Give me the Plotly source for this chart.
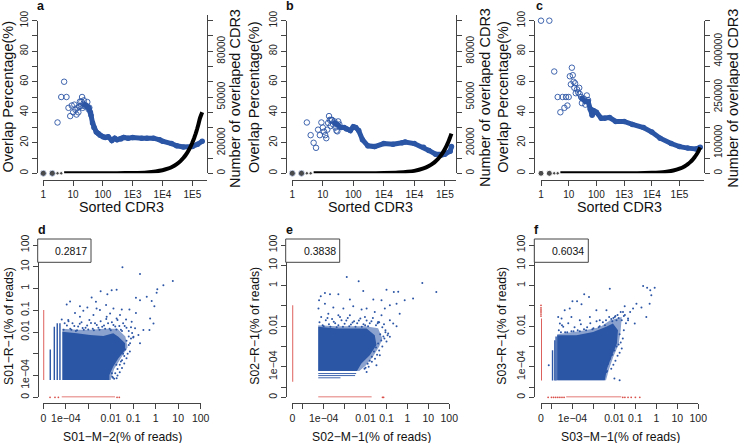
import plotly.graph_objects as go

W, H = 740, 443
BLUE = "#2B55A5"
RED = "#D94F4A"
AXC = "#444444"
FONT = "Liberation Sans, Arial, sans-serif"

# ---------- top row: overlap percentage by sorted CDR3 rank ----------
a_rank = [1,2,3,4,5,6,7,8,9,10,11,12,13,14,15,16,17,18,19,20,21,22,23,25,27,30,33,35]
a_pct = [0,0,33.3,50,60,50,42.9,37.5,44.4,40,45,41.7,38.5,42.9,40,43.8,47,44,47,50,42.9,45.5,47.8,44,44.4,46.7,42,43]
a_band_rank = [25,30,33,35,38,40,45,50,60,70,80,100,120,150,200,250,300,400,500,700,1000,2000,3000,5000,8000,10000,20000,30000,50000,100000,150000,215000]
a_band_pct = [45,44,43,42,40,38,33,30,27,26,25,24,23.5,24,21.5,23,22,22.5,23.5,23,23.5,23,23,23,22,21,19.5,18,17.3,17.5,19,21]
a_count_rank = [1,2,3,4,5,6,8,10,20,50,100,300,1000,3000,10000,15000,20000,30000,40000,50000,60000,70000,85000,100000,115000,130000,145000,160000,180000,215000]
a_count = [0,0,0,0,1,1,2,2,4,10,20,60,200,600,2000,3000,4000,6000,8000,10000,12000,14000,17000,20000,23000,26000,29000,32000,36000,40000]

b_rank = [1,2,3,4,5,6,7,8,9,10,11,12,13,14,15,16,17,18,19,20,22,24,26,28,30,32,35]
b_pct = [0,0,33.3,25,20,16.7,28.6,25,33.3,30,27.3,25,23,28.6,33,37.5,35,31,35,35,32,34,30,28,27.5,34,32]
b_band_rank = [25,30,40,50,60,80,100,120,150,200,300,500,1000,2000,4000,5000,10000,20000,30000,50000,80000,100000,150000,165000]
b_band_pct = [33,32,30,30,29,28,30.5,30,28,22,18,17.5,19.5,19,20,20.5,19.5,17,15,12.5,12,12.5,14.5,17.5]
b_count_rank = [1,2,3,4,5,6,8,10,20,50,100,300,1000,3000,10000,20000,30000,40000,50000,60000,70000,85000,100000,115000,130000,145000,165000]
b_count = [0,0,0,0,1,1,1,2,3,8,16,47,158,470,1580,3160,4740,6300,7900,9500,11000,13400,15800,18200,20500,22900,26000]

c_rank = [1,2,3,4,5,6,7,8,9,10,11,12,13,14,15,16,17,18,20,22,24,25,28,30,35,40,45,50]
c_pct = [100,100,66.7,50,40,50,42.9,50,44.4,50,63.6,58.3,69.2,64.3,60,56,59,52.5,55,53,56,52,50,46,49,45,51,48]
c_band_rank = [30,40,50,60,70,80,100,150,200,300,500,1000,2000,5000,10000,20000,50000,100000,200000,400000,560000]
c_band_pct = [49,47,47,42,38,41,40,36,36,36.5,34,34,32,30,27,23,19.5,17.5,16.5,16,17]
c_count_rank = [1,2,3,4,5,6,8,10,20,50,100,300,1000,3000,10000,30000,60000,100000,150000,200000,250000,300000,350000,400000,480000,560000]
c_count = [0,0,0,0,1,1,1,2,3,8,15,45,150,450,1500,4500,9000,15000,22500,30000,37500,45000,52500,60000,72000,85000]

x_top_vals = [1,10,100,1000,10000,100000]
x_top_a = ["1","10","100","1E3","1E4","1E5"]
x_top_b = ["1","10","100","1E4","1E4","1E5"]
x_top_c = ["1","10","100","1E3","1E4","1E5"]
left_vals = [0,10,20,30,40,50,60,70,80,90,100]
left_text = ["0","","20","","40","","60","","80","","100"]
right_ab_vals = [0,10000,20000,30000,40000,50000,60000,70000,80000,90000,100000]
right_ab_text = ["0","","20000","","","50000","","","80000","",""]
right_c_vals = [0,50000,100000,150000,200000,250000,300000,350000,400000,450000,500000]
right_c_text = ["0","","100000","","","250000","","","400000","",""]

# ---------- bottom row: log10 of % of reads ----------
d_dense_x = [-4.15,-4.15,-3.51,-2.92,-2.33,-1.89,-1.66,-1.36,-1.36,-1.66,-1.89,-2.06,-2.06]
d_dense_y = [-4.21,-1.99,-2.06,-2.14,-2.18,-2.06,-2.22,-2.52,-2.83,-3.21,-3.59,-3.98,-4.21]
d_fuzzy_x = [-4.15,-3.5,-2.9,-2.3,-1.7,-1.35,-1.25,-1.6,-1.85,-2.0,-2.06,-4.15]
d_fuzzy_y = [-1.85,-1.9,-1.9,-1.85,-1.85,-2.2,-2.7,-3.3,-3.7,-4.21,-4.21,-4.21]
d_col_x = [-4.69,-4.51,-4.38,-4.26]
d_col_top = [-2.8,-1.76,-1.6,-1.6]
d_col_bottom = [-4.21,-4.21,-4.21,-4.21]
d_pts_x = [-1.48,-0.70,0.76,0.34,0.07,-2.45,-1.96,-1.74,-2.15,0.04,-3.81,-3.96,-2.85,-2.66,-3.37,-3.04,-3.59,-3.22,-2.48,-2.21,-1.88,-1.51,-1.17,-0.88,-0.40,-0.70,-0.18,-0.06,-0.88,-0.25,-0.10,-0.28,-0.55,-0.92,-1.07,-1.74,-2.18,-2.77,-3.37,-3.89,-4.18,-2.63,-2.03,-1.59,-1.32,-0.77,-0.70,-1.93,-1.74,-0.99,-1.14,
            -4.1,-3.95,-3.8,-3.7,-3.55,-3.45,-3.3,-3.2,-3.05,-2.95,-2.8,-2.7,-2.55,-2.45,-2.3,-2.2,-2.05,-1.95,-1.8,-1.7,-1.55,-1.45,-1.3,-1.2,
            -4.05,-3.88,-3.62,-3.38,-3.12,-2.88,-2.62,-2.38,-2.12,-1.88,-1.62,-1.38,-1.1,-1.05,-1.0,-3.75,-3.5,-3.25,-3.0,-2.75,-2.5,-2.25,-2.0,-1.75,-1.5,
            -1.3,-1.2,-1.35,-1.15,-1.25,-1.4,-1.3,-1.5,-1.4,-1.6,-1.5,-1.7,-1.6,-1.8,-1.7,-1.9,-1.85,-1.1,-1.2,-1.45,-1.55,-1.75,-1.95]
d_pts_y = [0.98,0.67,0.34,0.15,-0.03,-0.12,-0.08,-0.06,-0.26,-0.20,-0.60,-0.73,-0.41,-0.61,-0.81,-0.87,-1.12,-1.02,-0.99,-0.76,-0.92,-0.96,-0.96,-0.43,-0.38,-0.54,-0.57,-0.81,-1.12,-1.38,-1.61,-1.91,-1.91,-1.83,-1.53,-1.38,-1.30,-1.22,-1.30,-1.45,-1.42,-0.92,-1.15,-1.22,-1.42,-2.14,-2.52,-4.05,-4.13,-2.22,-2.52,
            -1.9,-1.7,-1.85,-1.6,-1.95,-1.75,-1.55,-1.9,-1.7,-1.45,-1.85,-1.6,-1.8,-1.5,-1.7,-1.4,-1.85,-1.55,-1.75,-1.45,-1.9,-1.6,-1.8,-1.95,
            -1.6,-1.5,-1.72,-1.62,-1.8,-1.58,-1.68,-1.76,-1.6,-1.68,-1.72,-1.72,-1.78,-2.05,-2.25,-1.9,-1.92,-1.82,-1.88,-1.92,-1.9,-1.85,-1.92,-1.88,-1.95,
            -2.4,-2.6,-2.8,-2.9,-3.0,-3.1,-3.2,-3.3,-3.45,-3.5,-3.65,-3.7,-3.85,-3.9,-4.0,-4.1,-4.15,-2.3,-2.2,-3.0,-3.35,-3.5,-3.9]
d_red_v = [-0.99,-1.3,-1.6,-1.9,-2.2,-2.5,-3.0,-3.5,-4.0,-4.21]
d_red_h_dots = [-4.7,-4.48,-4.33,-1.72,-1.62]
d_red_h_line = [-4.18,-1.81]

e_dense_x = [-4.26,-4.26,-3.38,-2.59,-1.95,-1.56,-1.48,-1.8,-2.2,-2.41]
e_dense_y = [-4.21,-2.03,-2.11,-2.11,-2.11,-2.44,-2.93,-3.43,-3.83,-4.21]
e_fuzzy_x = [-4.26,-3.4,-2.7,-2.0,-1.4,-1.2,-1.35,-1.65,-2.0,-2.3,-4.26]
e_fuzzy_y = [-1.95,-2.0,-2.0,-2.0,-2.1,-2.6,-3.0,-3.5,-3.95,-4.21,-4.21]
e_row_y = [-4.33,-4.43,-4.54]
e_row_left = [-4.26,-4.26,-4.26]
e_row_right = [-2.45,-2.5,-3.2]
e_pts_x = [-2.90,-2.33,0.71,1.38,-2.11,-1.0,-0.65,-0.44,0.27,-0.13,-3.94,-3.70,-3.30,-4.14,-4.22,-2.75,-1.63,-1.24,-0.84,-0.52,-1.08,-0.37,-3.94,-3.54,-3.06,-2.59,-2.19,-1.95,-1.56,-1.24,-0.84,-0.68,-0.52,-4.25,-3.78,-3.30,-2.75,-2.03,-1.40,-0.92,-0.84,-1.32,-1.95,-1.48,
            -4.2,-4.05,-3.9,-3.75,-3.6,-3.45,-3.3,-3.15,-3.0,-2.85,-2.7,-2.55,-2.4,-2.25,-2.1,-1.95,-1.8,-1.65,-1.5,-1.35,-1.2,-1.05,
            -4.12,-3.82,-3.52,-3.22,-2.92,-2.62,-2.32,-2.02,-1.72,-1.42,-1.12,-4.0,-3.68,-3.38,-3.08,-2.78,-2.48,-2.18,-1.88,
            -1.3,-1.15,-1.25,-1.05,-1.4,-1.2,-1.5,-1.35,-1.6,-1.45,-1.7,-1.55,-1.8,-1.7,-1.9,-1.85,-2.05,-2.0,-1.1,-0.95,-1.0]
e_pts_y = [0.43,0.21,0.13,-0.31,-0.26,-0.2,-0.31,-0.30,-0.64,-0.72,-0.36,-0.43,-0.43,-0.52,-0.72,-0.69,-0.69,-0.72,-0.97,-0.89,-1.13,-1.38,-0.89,-1.08,-1.13,-1.02,-1.18,-1.13,-1.30,-1.46,-1.70,-1.87,-2.0,-1.13,-1.38,-1.46,-1.46,-1.54,-1.79,-2.36,-2.52,-3.43,-4.25,-3.92,
            -1.8,-1.95,-1.7,-1.9,-1.65,-1.85,-1.95,-1.7,-1.88,-1.6,-1.92,-1.75,-1.85,-1.62,-1.9,-1.72,-1.85,-1.6,-1.95,-1.8,-2.05,-2.2,
            -1.55,-1.6,-1.78,-1.55,-1.72,-1.82,-1.72,-1.95,-1.75,-1.85,-1.9,-2.0,-2.02,-2.05,-2.02,-2.0,-2.03,-2.02,-2.0,
            -2.4,-2.5,-2.7,-2.3,-2.85,-3.0,-3.05,-3.2,-3.25,-3.4,-3.5,-3.6,-3.7,-3.75,-3.85,-4.0,-4.1,-4.05,-2.6,-2.45,-2.75]
e_red_v = [-0.97,-1.3,-1.6,-1.9,-2.2,-2.6,-3.0,-3.5,-4.0,-4.4,-4.74]
e_red_h_dots = [-1.19,-1.14]
e_red_h_line = [-4.26,-1.71]

f_dense_x = [-4.73,-4.73,-3.81,-3.02,-2.39,-2.07,-1.83,-1.88,-2.14,-2.35,-2.46]
f_dense_y = [-4.66,-2.44,-2.44,-2.28,-2.03,-1.87,-2.2,-2.85,-3.51,-4.08,-4.66]
f_fuzzy_x = [-4.73,-4.2,-3.4,-2.7,-2.2,-1.65,-1.7,-1.8,-2.05,-2.25,-2.4,-4.73]
f_fuzzy_y = [-2.4,-2.32,-2.2,-2.05,-1.7,-1.55,-2.2,-2.9,-3.5,-4.1,-4.66,-4.66]
f_col_x = [-4.95,-4.84,-4.78]
f_col_top = [-3.18,-2.69,-2.5]
f_col_bottom = [-4.67,-4.67,-4.67]
f_pts_x = [-0.63,-0.44,-0.29,-0.08,-0.24,-2.22,-3.44,-3.21,-4.0,-3.78,-3.57,-4.68,-4.52,-4.60,-4.37,-4.13,-2.86,-3.17,-3.65,-2.38,-1.51,-1.11,-0.95,-0.71,-0.48,-1.35,-1.03,-1.59,-1.98,-4.05,-4.44,-2.38,-2.0,-1.75,-2.70,-0.32,-5.13,
            -4.65,-4.5,-4.35,-4.2,-4.05,-3.9,-3.75,-3.6,-3.45,-3.3,-3.15,-3.0,-2.85,-2.7,-2.55,-2.4,-2.25,-2.1,-1.95,-1.8,-1.65,-1.5,-1.35,
            -4.55,-4.25,-3.95,-3.65,-3.35,-3.05,-2.75,-2.45,-2.15,-1.85,-1.55,-1.25,-1.45,-1.7,-1.9,-2.05,
            -1.75,-1.6,-1.7,-1.55,-1.8,-1.65,-1.9,-1.75,-2.0,-1.85,-2.1,-1.95,-2.2,-2.05,-2.3,-2.15,-2.35]
f_pts_y = [-0.02,-0.10,-0.23,-0.10,-0.48,-0.15,-0.43,-0.56,-0.77,-0.77,-0.92,-1.54,-1.62,-1.87,-1.21,-1.13,-1.21,-1.54,-1.70,-1.21,-1.02,-1.13,-0.89,-1.08,-1.54,-1.62,-1.87,-1.30,-1.54,-1.54,-2.03,-4.25,-4.57,-4.66,-1.70,-0.89,-3.92,
            -2.2,-1.95,-2.3,-1.85,-2.25,-2.05,-2.2,-1.9,-2.15,-2.05,-1.85,-2.1,-1.75,-2.0,-1.8,-1.7,-1.55,-1.75,-1.5,-1.6,-1.7,-1.45,-1.7,
            -2.3,-2.3,-2.25,-2.25,-2.2,-2.15,-2.05,-1.95,-1.65,-1.45,-1.5,-1.3,-1.85,-1.3,-1.7,-1.6,
            -2.4,-2.6,-2.8,-2.2,-2.9,-3.1,-3.0,-3.3,-3.2,-3.45,-3.4,-3.7,-3.6,-3.9,-3.85,-4.1,-4.2]
f_red_v_dots = [-0.97,-1.1,-1.2,-1.3,-1.4,-1.5]
f_red_v = [-1.62,-2.0,-2.5,-3.0,-3.5,-4.0,-4.67]
f_red_h_dots = [-5.16,-5.0,-4.9,-4.8,-4.7,-4.6,-4.5,-4.4,-1.6,-1.5,-1.35,-1.2,-1.0,-0.79]
f_red_h_line = [-4.30,-1.67]

d_xtext = ["0","1e\u221204","","0.01","0.1","1","10","100"]
d_xvals = [-5,-4,-3,-2,-1,0,1,2]
d_ytext = ["0","1e\u221204","","0.01","0.1","1","10","100"]
ef_vals = [-5.5,-5,-4,-3,-2,-1,0,1,2]
ef_xtext = ["0","","1e\u221204","","0.01","0.1","1","10","100"]
ef_ytext = ["0","","1e\u221204","","0.01","","1","10","100"]


def pw(v):
    return [10 ** a for a in v]


def X(px):
    return px / W


def Y(py):
    return 1 - py / H


fig = go.Figure()
layout = {}
annotations = []
shapes = []
counter = [0]


def ids():
    counter[0] += 1
    return counter[0]


def note(text, x, y, size, angle=0, bold=False, xanchor="center"):
    annotations.append(dict(
        text=f"<b>{text}</b>" if bold else text, x=X(x), y=Y(y), xref="paper", yref="paper",
        showarrow=False, xanchor=xanchor, yanchor="middle", textangle=angle,
        font=dict(family=FONT, size=size, color="#111111")))


def base_axis(size):
    return dict(showgrid=False, zeroline=False, showline=True, linecolor=AXC, linewidth=1,
                ticks="outside", tickcolor=AXC, tickwidth=1,
                tickfont=dict(family=FONT, size=size, color="#222222"))


def top_panel(letter, geo, rank, pct, brank, bpct, crank, count, xt, rvals, rtext, rtop, xtitle_c, ltitle_x, rtitle_x, letter_x):
    xl, x1, xr, yl, decade = geo
    nx = ids(); ny = ids(); ny2 = ids()
    y0, y100 = 173.3, 20.7
    span = y0 - y100
    layout[f"xaxis{nx}"] = dict(base_axis(10), type="log", domain=[X(x1), X(xr)], range=[0, (xr - x1) / decade],
                                anchor="free", position=Y(180), side="bottom", tickvals=x_top_vals, ticktext=xt,
                                ticklen=5, tickangle=0)
    layout[f"yaxis{ny}"] = dict(base_axis(10), domain=[Y(y0), Y(y100)], range=[0, 100], anchor="free", position=X(yl),
                                side="left", tickvals=left_vals, ticktext=left_text, ticklen=5, tickangle=-90)
    rmax = rvals[-1]
    layout[f"yaxis{ny2}"] = dict(base_axis(10), domain=[Y(y0), Y(rtop)], range=[0, rmax * (y0 - rtop) / span],
                                 anchor="free", position=X(xr), side="right",
                                 tickvals=rvals, ticktext=rtext, ticklen=5, tickangle=-90)
    xa, ya, ya2 = f"x{nx}", f"y{ny}", f"y{ny2}"
    fig.add_trace(go.Scatter(x=brank, y=bpct, xaxis=xa, yaxis=ya, mode="lines+markers", cliponaxis=False,
                             line=dict(color=BLUE, width=5), marker=dict(color=BLUE, size=5.5),
                             showlegend=False, name="overlap"))
    fig.add_trace(go.Scatter(x=rank, y=pct, xaxis=xa, yaxis=ya, mode="markers", cliponaxis=False,
                             marker=dict(symbol="circle-open", color=BLUE, size=5.5, line=dict(width=0.9, color=BLUE)),
                             showlegend=False, name="overlap"))
    fig.add_trace(go.Scatter(x=crank[4:], y=count[4:], xaxis=xa, yaxis=ya2, mode="lines", cliponaxis=False,
                             line=dict(color="black", width=4, shape="spline", smoothing=0.3), showlegend=False, name="count"))
    fig.add_trace(go.Scatter(x=crank[:4], y=count[:4], xaxis=xa, yaxis=ya2, mode="markers", cliponaxis=False,
                             marker=dict(color="black", size=[6, 6, 3.5, 3.5]), showlegend=False, name="count"))
    note("Sorted CDR3", xtitle_c, 207, 14.3)
    note("Overlap Percentage(%)", ltitle_x, 97, 14.5, angle=-90)
    note("Number of overlaped CDR3", rtitle_x, 98, 14.5, angle=-90)
    note(letter, letter_x, 6, 12.5, bold=True)


def bottom_panel(letter, geo, xvals, xtext, yvals, ytext, dense, fuzzy, cols, rows, pts, red_v, red_v_dots, red_h, red_h_dots,
                 zero, xtitle, ytitle, score, title_c, ytitle_x, letter_x, box):
    yl, x0, x1 = geo
    nx = ids(); ny = ids()
    y0, y1 = 397.3, 245
    layout[f"xaxis{nx}"] = dict(base_axis(10.5), type="log", domain=[X(x0), X(x1)], range=[xvals[0], xvals[-1]],
                                anchor="free", position=Y(403.3), side="bottom", tickvals=pw(xvals), ticktext=xtext,
                                ticklen=5, tickangle=0)
    layout[f"yaxis{ny}"] = dict(base_axis(10.5), type="log", domain=[Y(y0), Y(y1)], range=[yvals[0], yvals[-1]],
                                anchor="free", position=X(yl), side="left", tickvals=pw(yvals), ticktext=ytext,
                                ticklen=5, tickangle=-90)
    xa, ya = f"x{nx}", f"y{ny}"
    common = dict(xaxis=xa, yaxis=ya, showlegend=False, cliponaxis=False)
    fig.add_trace(go.Scatter(x=pw(fuzzy[0]), y=pw(fuzzy[1]), mode="lines", fill="toself",
                             fillcolor="rgba(43,85,165,0.55)", line=dict(width=0), **common))
    fig.add_trace(go.Scatter(x=pw(dense[0]), y=pw(dense[1]), mode="lines", fill="toself",
                             fillcolor=BLUE, line=dict(width=0), **common))
    for cx, ct, cb in zip(*cols):
        fig.add_trace(go.Scatter(x=pw([cx, cx]), y=pw([cb, ct]), mode="lines",
                                 line=dict(color=BLUE, width=1.4), **common))
    for ry, rl, rr in zip(*rows):
        fig.add_trace(go.Scatter(x=pw([rl, rr]), y=pw([ry, ry]), mode="lines",
                                 line=dict(color=BLUE, width=0.9), **common))
    fig.add_trace(go.Scatter(x=pw(pts[0]), y=pw(pts[1]), mode="markers",
                             marker=dict(color=BLUE, size=2), **common))
    fig.add_trace(go.Scatter(x=pw([zero] * len(red_v)), y=pw(red_v), mode="lines",
                             line=dict(color=RED, width=1.8), **common))
    if red_v_dots:
        fig.add_trace(go.Scatter(x=pw([zero] * len(red_v_dots)), y=pw(red_v_dots), mode="markers",
                                 marker=dict(color=RED, size=1.8), **common))
    fig.add_trace(go.Scatter(x=pw(red_h), y=pw([zero] * len(red_h)), mode="lines",
                             line=dict(color=RED, width=1.8), **common))
    fig.add_trace(go.Scatter(x=pw(red_h_dots), y=pw([zero] * len(red_h_dots)), mode="markers",
                             marker=dict(color=RED, size=1.8), **common))
    note(xtitle, title_c, 436.5, 12.2)
    note(ytitle, ytitle_x, 326, 12.2, angle=-90)
    note(letter, letter_x, 230, 12.5, bold=True)
    shapes.append(dict(type="rect", xref="paper", yref="paper", x0=X(box[0]), x1=X(box[1]), y0=Y(262.3), y1=Y(239),
                       line=dict(color="#444444", width=1), fillcolor="white"))
    note(score, box[1] - 2, 250.5, 10.5, xanchor="right")


top_panel("a", (37.3, 43.3, 206.7, 37.3, 29.8), a_rank, a_pct, a_band_rank, a_band_pct, a_count_rank, a_count,
          x_top_a, right_ab_vals, right_ab_text, 15, 121.7, 7.5, 235, 41)
top_panel("b", (285.7, 292.3, 455.7, 285.7, 30.5), b_rank, b_pct, b_band_rank, b_band_pct, b_count_rank, b_count,
          x_top_b, right_ab_vals, right_ab_text, 15, 370.7, 254, 485, 290)
top_panel("c", (534.3, 541, 704.3, 534.3, 27.7), c_rank, c_pct, c_band_rank, c_band_pct, c_count_rank, c_count,
          x_top_c, right_c_vals, right_c_text, 20.7, 619.3, 502.7, 732.7, 539)

bottom_panel("d", (37.7, 43.3, 200.7), d_xvals, d_xtext, d_xvals, d_ytext, (d_dense_x, d_dense_y), (d_fuzzy_x, d_fuzzy_y),
             (d_col_x, d_col_top, d_col_bottom), ([], [], []), (d_pts_x, d_pts_y), d_red_v, [], d_red_h_line, d_red_h_dots, -5,
             "S01\u2212M\u22122(% of reads)", "S01\u2212R\u22121(% of reads)", "0.2817", 122.3, 9, 41.7, (37.7, 91))
bottom_panel("e", (285.7, 292.3, 449.3), ef_vals, ef_xtext, ef_vals, ef_ytext, (e_dense_x, e_dense_y), (e_fuzzy_x, e_fuzzy_y),
             ([], [], []), (e_row_y, e_row_left, e_row_right), (e_pts_x, e_pts_y), e_red_v, [], e_red_h_line, e_red_h_dots, -5.5,
             "S02\u2212M\u22121(% of reads)", "S02\u2212R\u22121(% of reads)", "0.3838", 371, 254.7, 289, (285.7, 339.7))
bottom_panel("f", (534.3, 541, 698.3), ef_vals, ef_xtext, ef_vals, ef_ytext, (f_dense_x, f_dense_y), (f_fuzzy_x, f_fuzzy_y),
             (f_col_x, f_col_top, f_col_bottom), ([], [], []), (f_pts_x, f_pts_y), f_red_v, f_red_v_dots, f_red_h_line, f_red_h_dots, -5.5,
             "S03\u2212M\u22121(% of reads)", "S03\u2212R\u22121(% of reads)", "0.6034", 620, 501.7, 536.7, (534.3, 588.3))

fig.update_layout(width=W, height=H, margin=dict(l=0, r=0, t=0, b=0, autoexpand=False), paper_bgcolor="white", plot_bgcolor="rgba(0,0,0,0)",
                  showlegend=False, annotations=annotations, shapes=shapes, font=dict(family=FONT), **layout)
fig.write_html("out.html", config={"displayModeBar": False},
               post_script="document.body.style.margin='0';document.documentElement.style.overflow='hidden';")
